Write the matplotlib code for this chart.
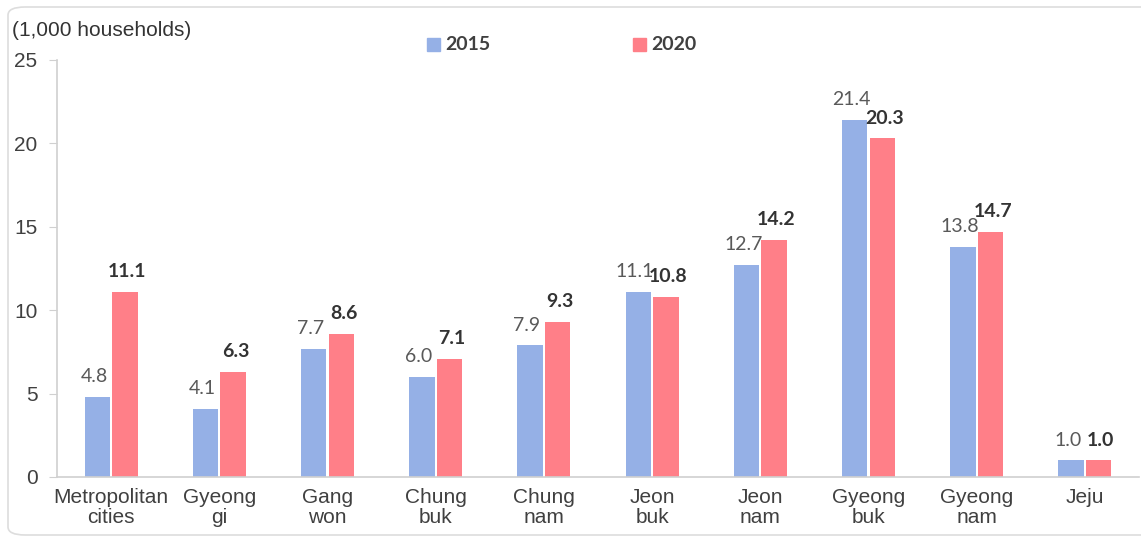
import matplotlib.pyplot as plt
import numpy as np
from matplotlib.patches import FancyBboxPatch

regions = ['Metropolitan\ncities', 'Gyeong\ngi', 'Gang\nwon', 'Chung\nbuk', 'Chung\nnam',
           'Jeon\nbuk', 'Jeon\nnam', 'Gyeong\nbuk', 'Gyeong\nnam', 'Jeju']
v2015 = [4.8, 4.1, 7.7, 6.0, 7.9, 11.1, 12.7, 21.4, 13.8, 1.0]
v2020 = [11.1, 6.3, 8.6, 7.1, 9.3, 10.8, 14.2, 20.3, 14.7, 1.0]
yticks = [0, 5, 10, 15, 20, 25]

c15 = '#95b0e6'
c20 = '#ff7f88'

plt.rcParams['font.family'] = ['Liberation Sans', 'DejaVu Sans']

fig = plt.figure(figsize=(11.41, 5.39), dpi=100)
ax = fig.add_axes([57/1141, 1-477/539, (1139-57)/1141, (477-60)/539])

# rounded frame around the chart
fig.patches.append(FancyBboxPatch((8/1141, 4/539), 1160/1141, 528/539,
                                  boxstyle='round,pad=0,rounding_size=0.015',
                                  transform=fig.transFigure, fill=False,
                                  edgecolor='#dddddd', linewidth=1.2))

x = np.arange(len(regions))
w = 0.235
off = 0.128
ax.bar(x - off, v2015, w, color=c15)
ax.bar(x + off, v2020, w, color=c20)

for i in range(len(x)):
    ax.text(x[i] - off - 0.03, v2015[i] + 0.7, '%.1f' % v2015[i], ha='center', va='bottom',
            fontsize=14, color='#595959', family='Lato')
    ax.text(x[i] + off + 0.02, v2020[i] + 0.7, '%.1f' % v2020[i], ha='center', va='bottom',
            fontsize=14, color='#333333', fontweight='bold', family='Lato')

ax.set_xlim(-0.5, len(x) - 0.5)
ax.set_ylim(0, 25)
ax.set_yticks(yticks)
ax.set_xticks(x)
ax.set_xticklabels(regions, fontsize=15, color='#404040', linespacing=1.05)
ax.tick_params(axis='x', length=0, pad=8)
ax.tick_params(axis='y', length=6, color='#d0d0d0', labelsize=15, labelcolor='#404040', pad=8)
for s in ['top', 'right']:
    ax.spines[s].set_visible(False)
for s in ['left', 'bottom']:
    ax.spines[s].set_color('#d0d0d0')
    ax.spines[s].set_linewidth(1.2)

fig.text(12/1141, 1-31/539, '(1,000 households)', fontsize=15, color='#333333', va='center')

# legend
fig.patches.append(plt.Rectangle((427/1141, 1-51/539), 13/1141, 13/539, color=c15,
                                 transform=fig.transFigure))
fig.text(445/1141, 1-45/539, '2015', fontsize=14, fontweight='bold', color='#404040', va='center',
         family='Lato')
fig.patches.append(plt.Rectangle((633/1141, 1-51/539), 13/1141, 13/539, color=c20,
                                 transform=fig.transFigure))
fig.text(651/1141, 1-45/539, '2020', fontsize=14, fontweight='bold', color='#404040', va='center',
         family='Lato')

plt.savefig('out.png', dpi=100)
